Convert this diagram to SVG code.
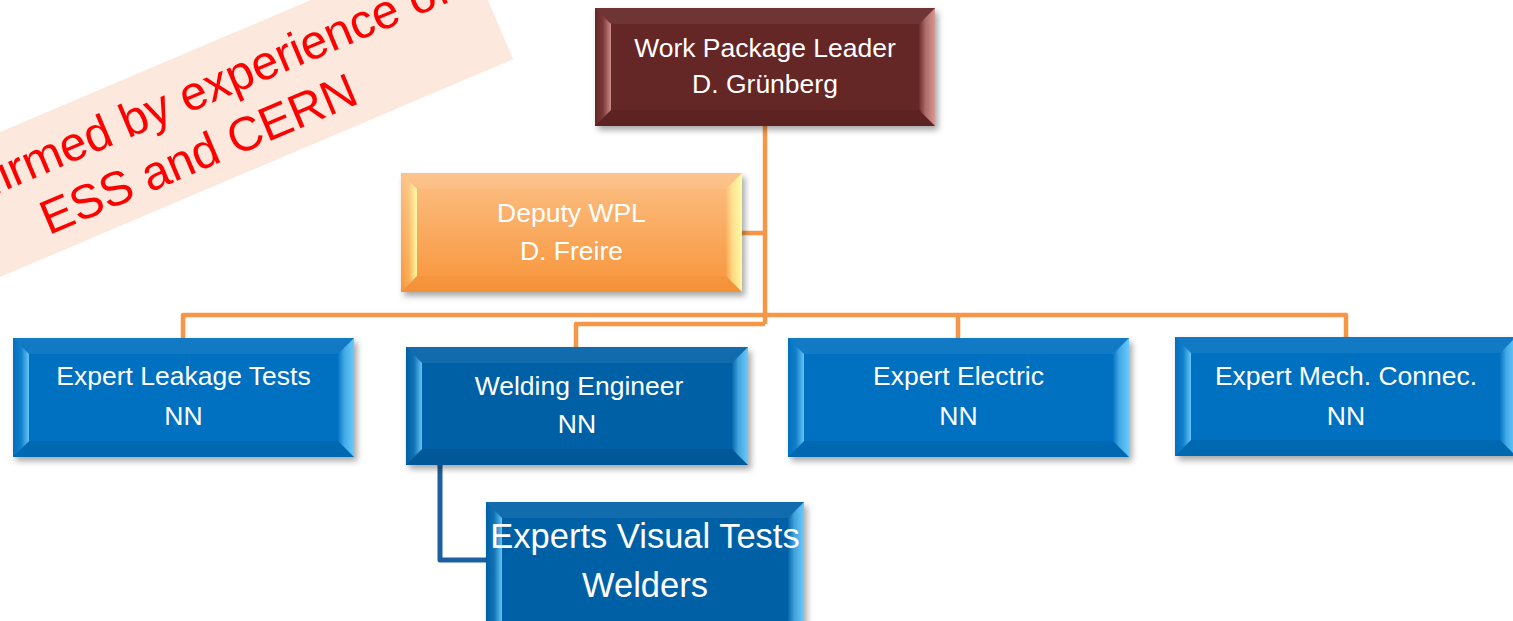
<svg xmlns="http://www.w3.org/2000/svg" width="1513" height="621" viewBox="0 0 1513 621">
  <style>
    .lbl { font-family: "Liberation Sans", Arial, sans-serif; fill: #ffffff; text-anchor: middle; }
    .s26 { font-size: 26.5px; }
    .s34 { font-size: 34.5px; }
    .hl-top { fill: #ffffff; fill-opacity: 0.07; }
    .sh-bot { fill: #000000; fill-opacity: 0.08; }
    .conn-o { fill: none; stroke: #f79646; stroke-width: 4.5; stroke-linejoin: round; }
    .conn-b { fill: none; stroke: #1c5f9f; stroke-width: 5; stroke-linejoin: round; }
    .wm { font-family: "Liberation Sans", Arial, sans-serif; font-size: 48px; fill: #ff0000; text-anchor: middle; }
  </style>
  <defs>
    <filter id="shadow" x="-10%" y="-10%" width="125%" height="135%">
      <feDropShadow dx="3" dy="4" stdDeviation="3" flood-color="#000000" flood-opacity="0.35"/>
    </filter>
    <!-- side bevel shading: light edge towards the face on the left, towards the rim on the right -->
    <linearGradient id="bL-blue" x1="0" y1="0" x2="1" y2="0">
      <stop offset="0" stop-color="#6fd0ff" stop-opacity="0"/>
      <stop offset="0.5" stop-color="#6fd0ff" stop-opacity="0.15"/>
      <stop offset="1" stop-color="#6fd0ff" stop-opacity="0.9"/>
    </linearGradient>
    <linearGradient id="bR-blue" x1="0" y1="0" x2="1" y2="0">
      <stop offset="0" stop-color="#6fd0ff" stop-opacity="0.05"/>
      <stop offset="0.4" stop-color="#6fd0ff" stop-opacity="0.6"/>
      <stop offset="1" stop-color="#6fd0ff" stop-opacity="0.95"/>
    </linearGradient>
    <linearGradient id="bL-red" x1="0" y1="0" x2="1" y2="0">
      <stop offset="0" stop-color="#e6a3a0" stop-opacity="0"/>
      <stop offset="0.5" stop-color="#e6a3a0" stop-opacity="0.15"/>
      <stop offset="1" stop-color="#e6a3a0" stop-opacity="0.8"/>
    </linearGradient>
    <linearGradient id="bR-red" x1="0" y1="0" x2="1" y2="0">
      <stop offset="0" stop-color="#e6a3a0" stop-opacity="0.05"/>
      <stop offset="0.4" stop-color="#e6a3a0" stop-opacity="0.55"/>
      <stop offset="1" stop-color="#e6a3a0" stop-opacity="0.9"/>
    </linearGradient>
    <linearGradient id="bL-org" x1="0" y1="0" x2="1" y2="0">
      <stop offset="0" stop-color="#ffffa8" stop-opacity="0"/>
      <stop offset="0.5" stop-color="#ffffa8" stop-opacity="0.2"/>
      <stop offset="1" stop-color="#ffffa8" stop-opacity="0.95"/>
    </linearGradient>
    <linearGradient id="bR-org" x1="0" y1="0" x2="1" y2="0">
      <stop offset="0" stop-color="#ffffa8" stop-opacity="0.05"/>
      <stop offset="0.4" stop-color="#ffffa8" stop-opacity="0.6"/>
      <stop offset="1" stop-color="#ffffa8" stop-opacity="0.95"/>
    </linearGradient>
    <linearGradient id="face-org" x1="0" y1="0" x2="0" y2="1">
      <stop offset="0" stop-color="#fcc085"/>
      <stop offset="1" stop-color="#f8943a"/>
    </linearGradient>
  </defs>

  <!-- note band, top left -->
  <g id="note" transform="translate(0,132) rotate(-23)">
    <rect x="-300" y="0" width="800.7" height="133.5" fill="#fce8dc"/>
    <text class="wm" x="174" y="56">Confirmed by experience of</text>
    <text class="wm" x="174" y="114">ESS and CERN</text>
  </g>

  <!-- connectors -->
  <g id="connectors">
    <path class="conn-o" d="M765,126 V324"/>
    <path class="conn-o" d="M742,233 H765"/>
    <path class="conn-o" d="M183,338 V315 H1346 V337"/>
    <path class="conn-o" d="M958,315 V338"/>
    <path class="conn-o" d="M765,324 H576 V347"/>
    <path class="conn-b" d="M440,465 V560 H486"/>
  </g>

  <!-- Work Package Leader -->
  <g id="node-leader">
    <rect x="595" y="8" width="340" height="118" fill="#652826" filter="url(#shadow)"/>
    <polygon class="hl-top" points="595,8 935,8 919,24 611,24"/>
    <polygon class="sh-bot" points="595,126 935,126 919,110 611,110"/>
    <polygon fill="url(#bL-red)" points="595,8 611,24 611,110 595,126"/>
    <polygon fill="url(#bR-red)" points="919,24 935,8 935,126 919,110"/>
    <text class="lbl s26" x="765" y="57">Work Package Leader</text>
    <text class="lbl s26" x="765" y="93">D. Grünberg</text>
  </g>

  <!-- Deputy WPL -->
  <g id="node-deputy">
    <rect x="401" y="173" width="341" height="119" fill="url(#face-org)" filter="url(#shadow)"/>
    <polygon class="hl-top" points="401,173 742,173 726,189 417,189"/>
    <polygon fill="#e07820" fill-opacity="0.12" points="401,292 742,292 726,276 417,276"/>
    <polygon fill="url(#bL-org)" points="401,173 417,189 417,276 401,292"/>
    <polygon fill="url(#bR-org)" points="726,189 742,173 742,292 726,276"/>
    <text class="lbl s26" x="571.5" y="222">Deputy WPL</text>
    <text class="lbl s26" x="571.5" y="260">D. Freire</text>
  </g>

  <!-- Expert Leakage Tests -->
  <g id="node-leakage">
    <rect x="13" y="338" width="341" height="119" fill="#0070c0" filter="url(#shadow)"/>
    <polygon class="hl-top" points="13,338 354,338 338,354 29,354"/>
    <polygon class="sh-bot" points="13,457 354,457 338,441 29,441"/>
    <polygon fill="url(#bL-blue)" points="13,338 29,354 29,441 13,457"/>
    <polygon fill="url(#bR-blue)" points="338,354 354,338 354,457 338,441"/>
    <text class="lbl s26" x="183.5" y="385">Expert Leakage Tests</text>
    <text class="lbl s26" x="183.5" y="425">NN</text>
  </g>

  <!-- Welding Engineer -->
  <g id="node-welding">
    <rect x="406" y="347" width="342" height="118" fill="#0560a6" filter="url(#shadow)"/>
    <polygon class="hl-top" points="406,347 748,347 732,363 422,363"/>
    <polygon class="sh-bot" points="406,465 748,465 732,449 422,449"/>
    <polygon fill="url(#bL-blue)" points="406,347 422,363 422,449 406,465"/>
    <polygon fill="url(#bR-blue)" points="732,363 748,347 748,465 732,449"/>
    <text class="lbl s26" x="579" y="395">Welding Engineer</text>
    <text class="lbl s26" x="577" y="433">NN</text>
  </g>

  <!-- Expert Electric -->
  <g id="node-electric">
    <rect x="788" y="338" width="341" height="119" fill="#0070c0" filter="url(#shadow)"/>
    <polygon class="hl-top" points="788,338 1129,338 1113,354 804,354"/>
    <polygon class="sh-bot" points="788,457 1129,457 1113,441 804,441"/>
    <polygon fill="url(#bL-blue)" points="788,338 804,354 804,441 788,457"/>
    <polygon fill="url(#bR-blue)" points="1113,354 1129,338 1129,457 1113,441"/>
    <text class="lbl s26" x="958.5" y="385">Expert Electric</text>
    <text class="lbl s26" x="958.5" y="425">NN</text>
  </g>

  <!-- Expert Mech. Connec. -->
  <g id="node-mech">
    <rect x="1175" y="337" width="341" height="119" fill="#0070c0" filter="url(#shadow)"/>
    <polygon class="hl-top" points="1175,337 1516,337 1500,353 1191,353"/>
    <polygon class="sh-bot" points="1175,456 1516,456 1500,440 1191,440"/>
    <polygon fill="url(#bL-blue)" points="1175,337 1191,353 1191,440 1175,456"/>
    <polygon fill="url(#bR-blue)" points="1500,353 1516,337 1516,456 1500,440"/>
    <text class="lbl s26" x="1346" y="385">Expert Mech. Connec.</text>
    <text class="lbl s26" x="1346" y="425">NN</text>
  </g>

  <!-- Experts Visual Tests / Welders -->
  <g id="node-visual">
    <rect x="486" y="502" width="318" height="124" fill="#0560a6" filter="url(#shadow)"/>
    <polygon class="hl-top" points="486,502 804,502 788,518 502,518"/>
    <polygon fill="url(#bL-blue)" points="486,502 502,518 502,626 486,626"/>
    <polygon fill="url(#bR-blue)" points="788,518 804,502 804,626 788,626"/>
    <text class="lbl s34" x="645" y="548">Experts Visual Tests</text>
    <text class="lbl s34" x="645" y="597">Welders</text>
  </g>
</svg>
